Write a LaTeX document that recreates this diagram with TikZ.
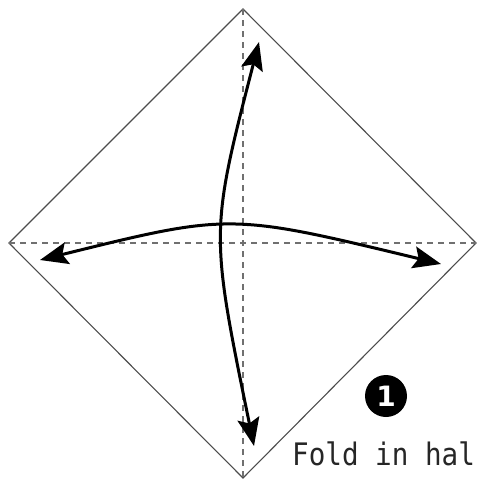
\documentclass[tikz,border=0pt]{standalone}
\usepackage{fontspec}
\newfontfamily\stepfont{DejaVu Sans Mono}
\newfontfamily\numfont{DejaVu Sans}
\usetikzlibrary{arrows.meta}
\begin{document}
\begin{tikzpicture}[x=1pt, y=-1pt, edge/.style={line width=1.1pt, ogEdge}, crease/.style={line width=1.1pt, ogEdge!80, dash pattern=on 6pt off 5pt}, fold/.style={{Stealth[length=28pt, width=22pt, inset=5pt]}-{Stealth[length=28pt, width=22pt, inset=5pt]}, line width=3pt, ogInk}, badge/.style={circle, fill=ogInk, text=white, inner sep=0pt, minimum size=42pt, font=\numfont\bfseries\fontsize{28}{28}\selectfont}, caption/.style={font=\stepfont\fontsize{31}{31}\selectfont, text=ogInk!85, inner sep=0pt, anchor=base west, xscale=0.89}]
\definecolor{ogInk}{rgb}{0,0,0}
\definecolor{ogEdge}{rgb}{0.30,0.30,0.30}
\useasboundingbox (0,0) rectangle (477,480);
% corners of the square sheet
\coordinate (top) at (243,9);
\coordinate (rgt) at (476,243);
\coordinate (bot) at (243,478);
\coordinate (lft) at (9,243);
\draw[edge, line join=miter] (top) -- (rgt) -- (bot) -- (lft) -- cycle;
\draw[crease] (top) -- (bot);
\draw[crease] (lft) -- (rgt);
% fold arrows
\coordinate (hA) at (40,260);
\coordinate (hB) at (441,264);
\coordinate (vA) at (259,42);
\coordinate (vB) at (254,446);
\draw[fold] (hA) .. controls (230,213) .. (hB);
\draw[fold] (vA) .. controls (210,232) .. (vB);
\node[badge] (num) at (386,396) {1};
\node[caption] (txt) at (292,465) {Fold in hal};
\end{tikzpicture}
\end{document}
